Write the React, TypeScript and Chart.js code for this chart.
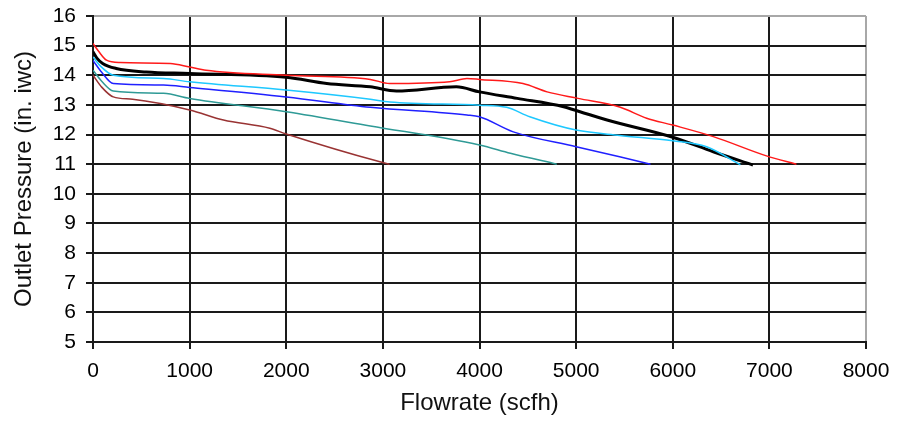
import React, { useEffect, useRef } from "react";
import { Chart, registerables } from "chart.js";

Chart.register(...registerables);

const xTicksMin = 0;
const xTicksMax = 8000;
const yTicksMin = 5;
const yTicksMax = 16;

const redX = [0, 60, 140, 280, 800, 1000, 1170, 2000, 2870, 3070, 3690, 3870, 4000, 4450, 4700, 5020, 5450, 5730, 6000, 6420, 6970, 7280];
const redY = [15.07, 14.8, 14.51, 14.43, 14.4, 14.28, 14.17, 14.0, 13.86, 13.72, 13.78, 13.89, 13.86, 13.72, 13.44, 13.22, 12.93, 12.55, 12.32, 11.93, 11.28, 11.0];

const blackX = [0, 40, 100, 240, 550, 1000, 2000, 2420, 2870, 3140, 3760, 4000, 4390, 4870, 5040, 5320, 6000, 6420, 6830];
const blackY = [14.79, 14.58, 14.4, 14.23, 14.11, 14.06, 13.93, 13.72, 13.61, 13.47, 13.61, 13.44, 13.22, 12.94, 12.77, 12.49, 11.91, 11.42, 10.97];

const cyanX = [0, 80, 210, 730, 1000, 2000, 2870, 3070, 4000, 4280, 4520, 5000, 5450, 6000, 6350, 6700];
const cyanY = [14.62, 14.3, 14.0, 13.89, 13.78, 13.5, 13.19, 13.1, 12.99, 12.92, 12.6, 12.15, 11.97, 11.79, 11.59, 10.98];

const blueX = [0, 90, 210, 730, 1000, 2000, 2870, 3870, 4000, 4350, 5000, 5450, 5770];
const blueY = [14.5, 14.1, 13.72, 13.67, 13.59, 13.27, 12.92, 12.66, 12.6, 12.09, 11.59, 11.25, 11.0];

const tealX = [0, 90, 210, 730, 1000, 2000, 2870, 4000, 4320, 4800];
const tealY = [14.17, 13.8, 13.47, 13.39, 13.22, 12.77, 12.29, 11.65, 11.37, 11.0];

const brownX = [0, 90, 210, 410, 1000, 1350, 1830, 2000, 2970, 3070];
const brownY = [14.0, 13.6, 13.27, 13.19, 12.83, 12.49, 12.21, 12.02, 11.08, 11.0];

const xTitle = "Flowrate (scfh)";
const yTitle = "Outlet Pressure (in. iwc)";

const toPts = (xs: number[], ys: number[]) => xs.map((x, i) => ({ x, y: ys[i] }));

export default function App() {
  const ref = useRef<HTMLCanvasElement | null>(null);

  useEffect(() => {
    if (!ref.current) return;
    const mk = (label: string, xs: number[], ys: number[], color: string, w: number) => ({
      label,
      data: toPts(xs, ys),
      borderColor: color,
      backgroundColor: color,
      borderWidth: w,
      pointRadius: 0,
      showLine: true,
      fill: false,
      tension: 0.3,
      cubicInterpolationMode: "monotone" as const,
    });
    const fam = "'Liberation Sans', Arial, sans-serif";
    const tickFont = { family: fam, size: 21 };
    const titleFont = { family: fam, size: 24 };
    const chart = new Chart(ref.current, {
      type: "scatter",
      data: {
        datasets: [
          mk("brown", brownX, brownY, "#993333", 1.5),
          mk("teal", tealX, tealY, "#2f9a96", 1.5),
          mk("blue", blueX, blueY, "#2020ff", 1.5),
          mk("cyan", cyanX, cyanY, "#1ec8ff", 1.5),
          mk("red", redX, redY, "#ff1a1a", 1.5),
          mk("black", blackX, blackY, "#000000", 3),
        ],
      },
      options: {
        animation: false,
        responsive: false,
        layout: { padding: { top: 16, right: 41, left: 0, bottom: 0 } },
        plugins: { legend: { display: false }, tooltip: { enabled: false } },
        scales: {
          x: {
            type: "linear",
            min: xTicksMin,
            max: xTicksMax,
            afterFit: (s: any) => {
              s.height = 84;
              s.paddingLeft = 0;
              s.paddingRight = 0;
            },
            ticks: { stepSize: 1000, color: "#000", font: tickFont, padding: 10, maxRotation: 0, callback: (v: any) => String(v) },
            grid: {
              color: (c: any) => (c.tick && c.tick.value === xTicksMax ? "#a8a8a8" : "#1a1a1a"),
              lineWidth: 2,
              tickLength: 7,
              tickColor: "#1a1a1a",
            },
            border: { color: "#1a1a1a", width: 2 },
            title: {
              display: true,
              text: xTitle,
              color: "#111",
              font: titleFont,
              padding: { top: 0, bottom: 8 },
            },
          },
          y: {
            type: "linear",
            min: yTicksMin,
            max: yTicksMax,
            afterFit: (s: any) => {
              s.width = 93;
              s.paddingTop = 0;
              s.paddingBottom = 0;
            },
            ticks: { stepSize: 1, color: "#000", font: tickFont, padding: 10, callback: (v: any) => String(v) },
            grid: {
              color: (c: any) => (c.tick && c.tick.value === yTicksMax ? "#a8a8a8" : "#1a1a1a"),
              lineWidth: 2,
              tickLength: 7,
              tickColor: "#1a1a1a",
            },
            border: { color: "#1a1a1a", width: 2 },
            title: {
              display: true,
              text: yTitle,
              color: "#111",
              font: titleFont,
              padding: { top: 10, bottom: 0 },
            },
          },
        },
      },
    } as any);
    return () => chart.destroy();
  }, []);

  return (
    <div style={{ position: "fixed", left: 0, top: 0, width: 907, height: 426, background: "#fff" }}>
      <canvas ref={ref} width={907} height={426} style={{ display: "block" }} />
    </div>
  );
}
